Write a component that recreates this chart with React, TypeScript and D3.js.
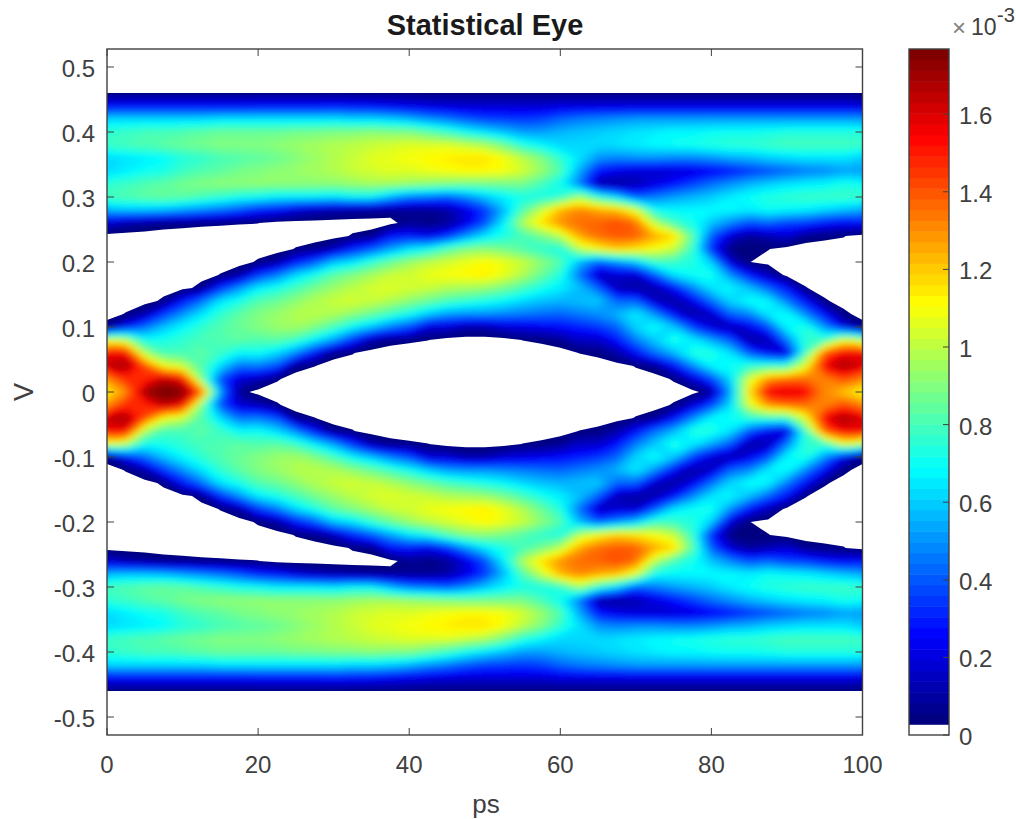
import React, { useMemo } from "react";
import * as d3 from "d3";

const timeStepsPs = d3.range(41).map((i) => i * 2.5);
const voltageRows = d3.range(47).map((i) => (46 - 2 * i) / 100);
const xTicks = [0, 20, 40, 60, 80, 100];
const yTicks = [0.5, 0.4, 0.3, 0.2, 0.1, 0, -0.1, -0.2, -0.3, -0.4, -0.5];
const barTicks = [0, 0.2, 0.4, 0.6, 0.8, 1, 1.2, 1.4, 1.6];
const yLabels = ["0.5", "0.4", "0.3", "0.2", "0.1", "0", "-0.1", "-0.2", "-0.3", "-0.4", "-0.5"];
const titleText = "Statistical Eye";
const xLabel = "ps";
const yLabel = "V";

// density in units of 1e-5, one list per time step, v = 0.46 ... 0.00
const upperDensity = [
[4,26,62,76,78,62,62,76,80,56,18.4,0,0,0,0,0,0,0,6.1,108,155,165,130,114],
[4,26,62,78,80,64,66,78,82,58,11,0,0,0,0,0,0,3.2,26,100,155,170,148,130],
[4,26,62,80,82,66,70,82,84,58,7.9,0,0,0,0,0,0,11,44,70,98,142,148,170],
[4,26,62,80,84,68,72,84,86,56,5.5,0,0,0,0,0,4.2,34,58,72,80,110,165,180],
[4,26,62,82,86,74,78,88,84,52,4.6,0,0,0,0,0,27,50,68,76,80,102,155,176],
[4,26,62,84,88,76,82,90,80,48,3.9,0,0,0,0,5.5,44,64,76,80,84,82,90,138],
[4,26,64,86,90,80,84,92,76,44,3.5,0,0,0,3.1,32,64,76,82,82,78,62,38,52],
[4,26,64,86,90,82,88,92,72,38,3.1,0,0,0,9.2,50,72,84,86,84,68,44,18,6],
[4,27,64,86,90,84,90,92,70,30,2.9,0,0,3.7,34,66,82,90,90,82,70,46,13.8,0],
[4,27,64,86,92,86,92,92,66,27,0,0,0,9.2,46,72,86,94,94,84,62,38,3.5,0],
[4,27,64,88,94,90,94,92,66,18.4,0,0,3.2,28,62,80,92,98,96,78,48,5.5,0,0],
[4,27,64,88,96,94,96,92,66,13.8,0,0,5.5,40,72,88,98,100,90,66,26,2.9,0,0],
[4,28,64,90,98,98,98,92,64,11,0,0,14,58,84,94,102,98,80,52,5.5,0,0,0],
[4,27,62,90,100,102,102,94,68,9.2,0,3.5,30,64,90,100,104,92,68,32,3.1,0,0,0],
[4,26,62,92,102,106,104,96,68,7.9,0,5.5,40,76,96,104,102,86,58,11,0,0,0,0],
[4,24,60,90,104,108,106,96,56,6.9,0,27,52,86,102,106,98,78,46,5,0,0,0,0],
[4,22,56,90,106,110,106,94,46,7,7,28,64,94,104,104,92,70,38,3.7,0,0,0,0],
[4,20,50,84,106,112,108,92,44,6,5,22,70,100,108,102,86,60,18,2.9,0,0,0,0],
[4,19,46,78,106,114,110,90,40,10,8,32,82,104,110,98,80,52,18,0,0,0,0,0],
[4,18,40,70,102,116,112,88,48,20,20,50,90,108,112,96,76,50,11,0,0,0,0,0],
[4,18,36,64,98,116,112,88,58,34,38,64,92,112,114,94,72,50,11,0,0,0,0,0],
[4,18,35,58,88,110,110,88,66,56,66,72,88,108,108,88,68,48,18,0,0,0,0,0],
[4,18,34,52,74,100,104,88,72,82,98,80,82,102,98,80,62,46,20,2.9,0,0,0,0],
[4,18,36,52,68,90,94,80,72,102,116,88,76,92,86,72,58,44,23,3.9,0,0,0,0],
[4,20,42,56,62,76,82,70,76,124,130,100,72,82,74,66,56,42,26,6.9,0,0,0,0],
[4,20,46,58,62,64,54,46,96,132,136,126,100,56,44,58,58,46,30,16,2.9,0,0,0],
[4,20,48,60,62,50,28,10,76,126,138,136,112,40,14,42,60,50,34,16,4.2,0,0,0],
[4,20,50,62,64,48,22,8,62,122,142,140,120,50,18,12,42,56,42,28,11,0,0,0],
[4,20,52,64,66,50,18,12,40,106,136,138,116,60,16,10,42,66,62,46,26,3.2,0,0],
[4,20,52,66,68,50,18,20,46,70,100,126,110,78,40,12,16,50,70,60,44,6.9,0,0],
[4,20,52,68,70,48,18,28,52,68,80,118,102,78,64,26,10,26,60,74,56,26,3.5,0],
[4,20,52,68,72,48,20,36,56,68,72,84,78,74,70,48,22,10,36,66,74,48,18,0],
[4,20,52,70,74,50,24,44,60,68,58,40,30,60,72,64,44,16,18,54,74,68,36,8],
[4,20,52,71,76,54,28,50,66,68,48,18,5,18,50,68,62,42,12,40,64,70,62,52],
[4,20,52,71,76,56,34,56,70,66,38,8,3,3,28,58,70,48,22,10,40,76,106,116],
[4,20,52,72,78,60,38,60,74,70,42,12,3.1,0,13.8,42,68,66,38,12,24,78,130,156],
[4,20,52,74,80,62,42,64,76,68,36,18,0,0,0,27,46,70,68,46,18,78,136,160],
[4,20,52,74,80,64,46,66,78,66,34,6.1,0,0,0,3.1,26,48,74,76,80,108,136,156],
[4,20,52,74,80,64,48,68,78,62,28,4.2,0,0,0,0,3.7,26,50,78,140,156,132,130],
[4,20,52,74,80,64,52,72,78,58,24,3.1,0,0,0,0,0,4.6,22,108,156,170,142,120],
[4,20,52,74,78,60,52,70,78,54,27,0,0,0,0,0,0,0,6.1,100,156,160,132,112],
];

// density in units of 1e-5, one list per time step, v = -0.02 ... -0.46
const lowerDensity = [
[130,165,155,108,6.1,0,0,0,0,0,0,0,18.4,56,80,76,62,62,78,76,62,26,4],
[148,170,155,100,26,3.2,0,0,0,0,0,0,11,58,82,78,66,64,80,78,62,26,4],
[148,142,98,70,44,11,0,0,0,0,0,0,7.9,58,84,82,70,66,82,80,62,26,4],
[165,110,80,72,58,34,4.2,0,0,0,0,0,5.5,56,86,84,72,68,84,80,62,26,4],
[155,102,80,76,68,50,27,0,0,0,0,0,4.6,52,84,88,78,74,86,82,62,26,4],
[90,82,84,80,76,64,44,5.5,0,0,0,0,3.9,48,80,90,82,76,88,84,62,26,4],
[38,62,78,82,82,76,64,32,3.1,0,0,0,3.5,44,76,92,84,80,90,86,64,26,4],
[18,44,68,84,86,84,72,50,9.2,0,0,0,3.1,38,72,92,88,82,90,86,64,26,4],
[13.8,46,70,82,90,90,82,66,34,3.7,0,0,2.9,30,70,92,90,84,90,86,64,27,4],
[3.5,38,62,84,94,94,86,72,46,9.2,0,0,0,27,66,92,92,86,92,86,64,27,4],
[0,5.5,48,78,96,98,92,80,62,28,3.2,0,0,18.4,66,92,94,90,94,88,64,27,4],
[0,2.9,26,66,90,100,98,88,72,40,5.5,0,0,13.8,66,92,96,94,96,88,64,27,4],
[0,0,5.5,52,80,98,102,94,84,58,14,0,0,11,64,92,98,98,98,90,64,28,4],
[0,0,3.1,32,68,92,104,100,90,64,30,3.5,0,9.2,68,94,102,102,100,90,62,27,4],
[0,0,0,11,58,86,102,104,96,76,40,5.5,0,7.9,68,96,104,106,102,92,62,26,4],
[0,0,0,5,46,78,98,106,102,86,52,27,0,6.9,56,96,106,108,104,90,60,24,4],
[0,0,0,3.7,38,70,92,104,104,94,64,28,7,7,46,94,106,110,106,90,56,22,4],
[0,0,0,2.9,18,60,86,102,108,100,70,22,5,6,44,92,108,112,106,84,50,20,4],
[0,0,0,0,18,52,80,98,110,104,82,32,8,10,40,90,110,114,106,78,46,19,4],
[0,0,0,0,11,50,76,96,112,108,90,50,20,20,48,88,112,116,102,70,40,18,4],
[0,0,0,0,11,50,72,94,114,112,92,64,38,34,58,88,112,116,98,64,36,18,4],
[0,0,0,0,18,48,68,88,108,108,88,72,66,56,66,88,110,110,88,58,35,18,4],
[0,0,0,2.9,20,46,62,80,98,102,82,80,98,82,72,88,104,100,74,52,34,18,4],
[0,0,0,3.9,23,44,58,72,86,92,76,88,116,102,72,80,94,90,68,52,36,18,4],
[0,0,0,6.9,26,42,56,66,74,82,72,100,130,124,76,70,82,76,62,56,42,20,4],
[0,0,2.9,16,30,46,58,58,44,56,100,126,136,132,96,46,54,64,62,58,46,20,4],
[0,0,4.2,16,34,50,60,42,14,40,112,136,138,126,76,10,28,50,62,60,48,20,4],
[0,0,11,28,42,56,42,12,18,50,120,140,142,122,62,8,22,48,64,62,50,20,4],
[0,3.2,26,46,62,66,42,10,16,60,116,138,136,106,40,12,18,50,66,64,52,20,4],
[0,6.9,44,60,70,50,16,12,40,78,110,126,100,70,46,20,18,50,68,66,52,20,4],
[3.5,26,56,74,60,26,10,26,64,78,102,118,80,68,52,28,18,48,70,68,52,20,4],
[18,48,74,66,36,10,22,48,70,74,78,84,72,68,56,36,20,48,72,68,52,20,4],
[36,68,74,54,18,16,44,64,72,60,30,40,58,68,60,44,24,50,74,70,52,20,4],
[62,70,64,40,12,42,62,68,50,18,5,18,48,68,66,50,28,54,76,71,52,20,4],
[106,76,40,10,22,48,70,58,28,3,3,8,38,66,70,56,34,56,76,71,52,20,4],
[130,78,24,12,38,66,68,42,13.8,0,3.1,12,42,70,74,60,38,60,78,72,52,20,4],
[136,78,18,46,68,70,46,27,0,0,0,18,36,68,76,64,42,62,80,74,52,20,4],
[136,108,80,76,74,48,26,3.1,0,0,0,6.1,34,66,78,66,46,64,80,74,52,20,4],
[132,156,140,78,50,26,3.7,0,0,0,0,4.2,28,62,78,68,48,64,80,74,52,20,4],
[142,170,156,108,22,4.6,0,0,0,0,0,3.1,24,58,78,72,52,64,80,74,52,20,4],
[132,160,156,100,6.1,0,0,0,0,0,0,0,27,54,78,70,52,60,78,74,52,20,4],
];

const COLOR_MAX = 176.8;
const LEVELS = 64;
const INK = "#404040";
const FONT = "'Liberation Sans', Arial, sans-serif";

function jet(t: number) {
  const ch = (c: number) => Math.round(255 * Math.max(0, Math.min(1, 1.5 - Math.abs(4 * t - c))));
  return `rgb(${ch(3)},${ch(2)},${ch(1)})`;
}
const levelColor = (k: number) => (k === 0 ? "#ffffff" : jet((k - 1) / (LEVELS - 2)));

const left = 107, right = 862.5, top = 49, bottom = 735;
const barL = 909, barR = 949;
const fs = 24;

export default function App() {
  const x = d3.scaleLinear().domain([0, 100]).range([left, right]);
  const y = d3.scaleLinear().domain([0.5, -0.5]).range([67, 717]);
  const bar = d3.scaleLinear().domain([0, COLOR_MAX]).range([bottom, top]);

  const paths = useMemo(() => {
    const nx = timeStepsPs.length, ny = voltageRows.length;
    const values = new Array(nx * ny);
    timeStepsPs.forEach((_, i) => {
      const col = [...upperDensity[i], ...lowerDensity[i]];
      col.forEach((v, j) => (values[i + j * nx] = v));
    });
    const gen = d3.contours().size([nx, ny]);
    const proj = d3.geoTransform({
      point(cx: number, cy: number) {
        const tx = (cx - 0.5) * 2.5;
        const vy = 0.46 - (cy - 0.5) * 0.02;
        (this as any).stream.point(x(tx), y(vy));
      },
    });
    const path = d3.geoPath(proj);
    return d3.range(1, LEVELS).map((k) => ({
      k,
      d: path(gen.contour(values, (k * COLOR_MAX) / LEVELS) as any) || "",
    }));
  }, []);

  const tickLen = 7;
  return (
    <svg width={1016} height={819} style={{ position: "absolute", left: 0, top: 0, background: "#fff" }} fontFamily={FONT}>
      <defs>
        <clipPath id="plot"><rect x={left} y={y(0.46)} width={right - left} height={y(-0.46) - y(0.46)} /></clipPath>
        <clipPath id="support"><path d={paths[0].d} /></clipPath>
        <filter id="soft" filterUnits="userSpaceOnUse" x={0} y={0} width={1016} height={819}><feGaussianBlur stdDeviation="4 3" /></filter>
      </defs>
      <rect x={left} y={top} width={right - left} height={bottom - top} fill="#fff" />
      <g clipPath="url(#plot)">
        <g clipPath="url(#support)">
          <g filter="url(#soft)">
            <rect x={left - 40} y={top} width={right - left + 80} height={bottom - top} fill={levelColor(1)} />
            {paths.map((p) => <path key={p.k} d={p.d} fill={levelColor(p.k)} />)}
          </g>
        </g>
      </g>
      <rect x={left} y={top} width={right - left} height={bottom - top} fill="none" stroke={INK} strokeWidth={1.4} />
      {xTicks.map((t) => (
        <g key={t}>
          <line x1={x(t)} x2={x(t)} y1={bottom} y2={bottom - tickLen} stroke={INK} />
          <line x1={x(t)} x2={x(t)} y1={top} y2={top + tickLen} stroke={INK} />
          <text x={x(t)} y={773} textAnchor="middle" fontSize={fs} fill={INK}>{t}</text>
        </g>
      ))}
      {yTicks.map((t, i) => (
        <g key={t}>
          <line x1={left} x2={left + tickLen} y1={y(t)} y2={y(t)} stroke={INK} />
          <line x1={right} x2={right - tickLen} y1={y(t)} y2={y(t)} stroke={INK} />
          <text x={95} y={y(t) + 10} textAnchor="end" fontSize={fs} fill={INK}>{yLabels[i]}</text>
        </g>
      ))}
      <text x={485} y={35} textAnchor="middle" fontSize={29} fontWeight="bold" fill="#1a1a1a">{titleText}</text>
      <text x={486} y={813} textAnchor="middle" fontSize={26} fill={INK}>{xLabel}</text>
      <text transform="translate(33,392) rotate(-90)" textAnchor="middle" fontSize={27} fill={INK}>{yLabel}</text>

      {d3.range(LEVELS).map((k) => {
        const y1 = bar((k * COLOR_MAX) / LEVELS), y0 = bar(((k + 1) * COLOR_MAX) / LEVELS);
        return <rect key={k} x={barL} width={barR - barL} y={y0} height={y1 - y0 + 0.5} fill={levelColor(k)} />;
      })}
      <rect x={barL} y={top} width={barR - barL} height={bottom - top} fill="none" stroke={INK} strokeWidth={1.4} />
      {barTicks.map((t) => (
        <g key={t}>
          <line x1={barR - 6} x2={barR} y1={bar(t * 100)} y2={bar(t * 100)} stroke={INK} />
          <text x={959} y={bar(t * 100) + 10} fontSize={fs} fill={INK}>{t}</text>
        </g>
      ))}
      <text x={952} y={36} fontSize={24} fill="#808080">×</text>
      <text x={971} y={35} fontSize={23} fill={INK}>10</text>
      <text x={997} y={22} fontSize={20} fill={INK}>-3</text>
    </svg>
  );
}
